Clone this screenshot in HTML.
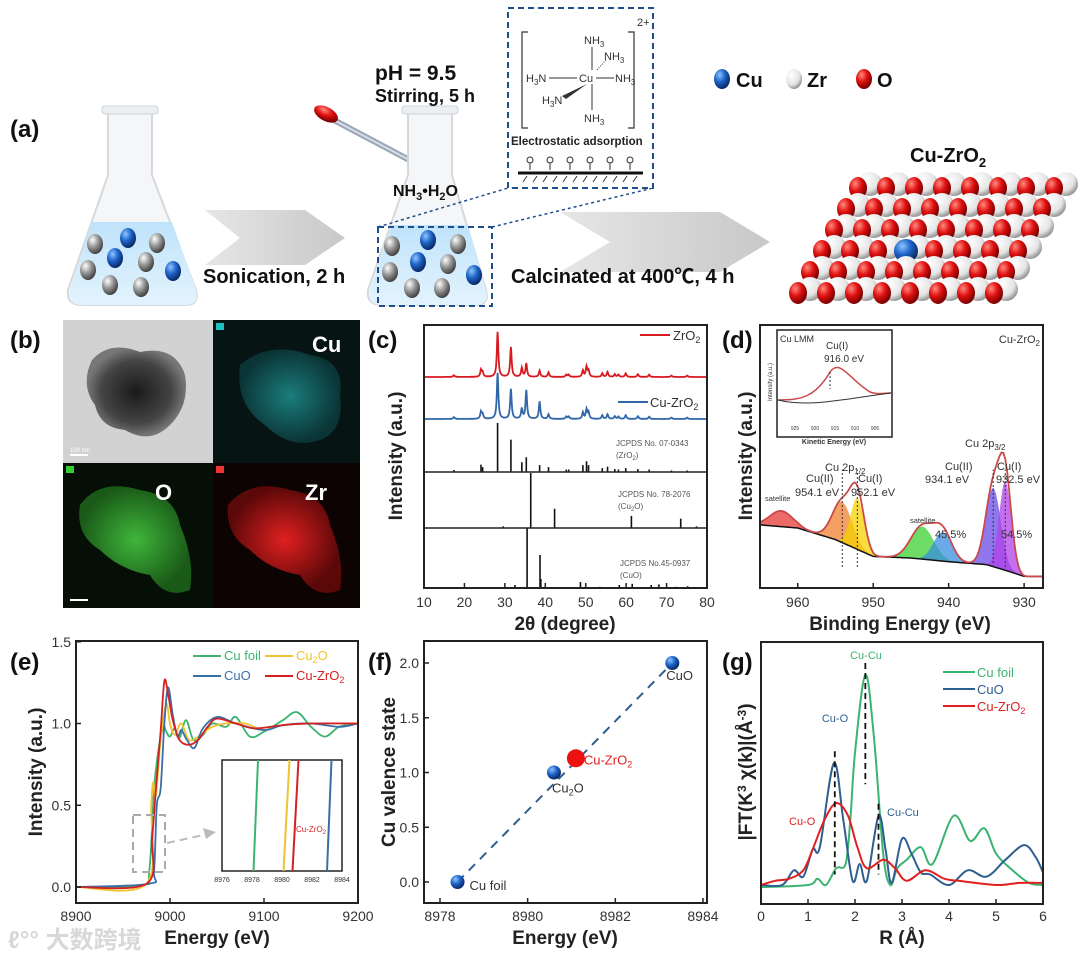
<!DOCTYPE html>
<html><head><meta charset="utf-8">
<style>
html,body{margin:0;padding:0;background:#fff;}
svg{display:block;font-family:"Liberation Sans","Noto Sans CJK SC",sans-serif;}
.tk{font-size:14px;fill:#333;}
.ttl{font-size:19px;font-weight:bold;fill:#222;}
.pl{font-size:24px;font-weight:bold;fill:#111;}
</style></head>
<body>
<svg id="fig" width="1080" height="957" viewBox="0 0 1080 957" xmlns="http://www.w3.org/2000/svg">
<defs>
<radialGradient id="gGrey" cx="35%" cy="30%" r="70%"><stop offset="0" stop-color="#fff"/><stop offset="0.5" stop-color="#999"/><stop offset="1" stop-color="#444"/></radialGradient>
<radialGradient id="gBlue" cx="35%" cy="30%" r="70%"><stop offset="0" stop-color="#8fc4ff"/><stop offset="0.5" stop-color="#1e64c8"/><stop offset="1" stop-color="#0a2a66"/></radialGradient>
<radialGradient id="gRed" cx="35%" cy="30%" r="70%"><stop offset="0" stop-color="#ff8a80"/><stop offset="0.5" stop-color="#e01010"/><stop offset="1" stop-color="#7a0000"/></radialGradient>
<radialGradient id="gWhite" cx="35%" cy="30%" r="70%"><stop offset="0" stop-color="#fff"/><stop offset="0.7" stop-color="#e4e4e4"/><stop offset="1" stop-color="#999"/></radialGradient>
<linearGradient id="gLiquid" x1="0" y1="0" x2="0" y2="1"><stop offset="0" stop-color="#bfe3fb"/><stop offset="1" stop-color="#e3f3fd"/></linearGradient>
<linearGradient id="gArrow" x1="0" y1="0" x2="1" y2="0"><stop offset="0" stop-color="#e6e6e6"/><stop offset="1" stop-color="#c8c8c8"/></linearGradient>
<radialGradient id="gTem" cx="50%" cy="50%" r="50%"><stop offset="0" stop-color="#1a1a1a"/><stop offset="0.7" stop-color="#444"/><stop offset="1" stop-color="#777"/></radialGradient>
<radialGradient id="gCu" cx="50%" cy="50%" r="50%"><stop offset="0" stop-color="#1f8f8f"/><stop offset="1" stop-color="#0b3a3c"/></radialGradient>
<radialGradient id="gO" cx="50%" cy="50%" r="50%"><stop offset="0" stop-color="#3fb63a"/><stop offset="1" stop-color="#1a5a18"/></radialGradient>
<radialGradient id="gZr" cx="50%" cy="50%" r="50%"><stop offset="0" stop-color="#e02020"/><stop offset="1" stop-color="#5a0808"/></radialGradient>
</defs>

<!-- ============ PANEL A ============ -->
<g>
<text x="10" y="137" class="pl">(a)</text>
<g>
<path d="M108,112 L108,175 L68,290 Q66,305 82,305 L186,305 Q200,305 196,290 L152,175 L152,112 Z" fill="#f4f6f8" stroke="#d5d9dd" stroke-width="2"/>
<rect x="102" y="106" width="56" height="8" rx="3" fill="#eceff1" stroke="#cfd4d8"/>
<path d="M92,222 L172,222 L196,290 Q200,305 186,305 L82,305 Q66,305 70,290 Z" fill="url(#gLiquid)"/>
</g>
<g>
<ellipse cx="95" cy="244" rx="8" ry="10" fill="url(#gGrey)"/><ellipse cx="128" cy="238" rx="8" ry="10" fill="url(#gBlue)"/><ellipse cx="157" cy="243" rx="8" ry="10" fill="url(#gGrey)"/>
<ellipse cx="88" cy="270" rx="8" ry="10" fill="url(#gGrey)"/><ellipse cx="115" cy="258" rx="8" ry="10" fill="url(#gBlue)"/><ellipse cx="146" cy="262" rx="8" ry="10" fill="url(#gGrey)"/><ellipse cx="173" cy="271" rx="8" ry="10" fill="url(#gBlue)"/>
<ellipse cx="110" cy="285" rx="8" ry="10" fill="url(#gGrey)"/><ellipse cx="141" cy="287" rx="8" ry="10" fill="url(#gGrey)"/>
</g>
<path d="M205,210 L305,210 L345,238 L305,265 L205,265 L240,238 Z" fill="url(#gArrow)"/>
<text x="203" y="283" font-size="20" font-weight="bold" fill="#111">Sonication, 2 h</text>
<g>
<line x1="330" y1="118" x2="432" y2="172" stroke="#9aa5b5" stroke-width="6" stroke-linecap="round"/>
<line x1="330" y1="118" x2="432" y2="172" stroke="#d8dee8" stroke-width="2"/>
<ellipse cx="326" cy="114" rx="13" ry="7" transform="rotate(28 326 114)" fill="url(#gRed)"/>
</g>
<g>
<path d="M408,112 L408,175 L368,290 Q366,305 382,305 L476,305 Q490,305 486,290 L452,175 L452,112 Z" fill="#f4f6f8" stroke="#d5d9dd" stroke-width="2"/>
<rect x="402" y="106" width="56" height="8" rx="3" fill="#eceff1" stroke="#cfd4d8"/>
<path d="M392,225 L468,225 L486,290 Q490,305 476,305 L382,305 Q366,305 370,290 Z" fill="url(#gLiquid)"/>
<ellipse cx="392" cy="246" rx="8" ry="10" fill="url(#gGrey)"/><ellipse cx="428" cy="240" rx="8" ry="10" fill="url(#gBlue)"/><ellipse cx="458" cy="244" rx="8" ry="10" fill="url(#gGrey)"/>
<ellipse cx="390" cy="272" rx="8" ry="10" fill="url(#gGrey)"/><ellipse cx="418" cy="262" rx="8" ry="10" fill="url(#gBlue)"/><ellipse cx="448" cy="264" rx="8" ry="10" fill="url(#gGrey)"/><ellipse cx="474" cy="275" rx="8" ry="10" fill="url(#gBlue)"/>
<ellipse cx="412" cy="288" rx="8" ry="10" fill="url(#gGrey)"/><ellipse cx="442" cy="288" rx="8" ry="10" fill="url(#gGrey)"/>
</g>
<rect x="378" y="227" width="114" height="79" fill="none" stroke="#1f4e8c" stroke-width="2" stroke-dasharray="6,4"/>
<line x1="378" y1="227" x2="508" y2="188" stroke="#1f4e8c" stroke-width="1.5" stroke-dasharray="3,3"/>
<line x1="492" y1="227" x2="653" y2="188" stroke="#1f4e8c" stroke-width="1.5" stroke-dasharray="3,3"/>
<text x="375" y="80" font-size="21" font-weight="bold" fill="#111">pH = 9.5</text>
<text x="375" y="102" font-size="18" font-weight="bold" fill="#111">Stirring, 5 h</text>
<text x="393" y="196" font-size="16" font-weight="bold" fill="#111">NH<tspan font-size="11" dy="4">3</tspan><tspan dy="-4">•H</tspan><tspan font-size="11" dy="4">2</tspan><tspan dy="-4">O</tspan></text>
<g>
<rect x="508" y="8" width="145" height="180" fill="#fff" stroke="#1f4e8c" stroke-width="2" stroke-dasharray="6,4"/>
<path d="M528,32 L522,32 L522,128 L528,128" fill="none" stroke="#333" stroke-width="1.2"/>
<path d="M628,32 L634,32 L634,128 L628,128" fill="none" stroke="#333" stroke-width="1.2"/>
<text x="637" y="26" font-size="11" fill="#333">2+</text>
<g font-size="11" fill="#333">
<text x="584" y="44">NH<tspan font-size="8" dy="3">3</tspan></text>
<text x="604" y="60">NH<tspan font-size="8" dy="3">3</tspan></text>
<text x="526" y="82">H<tspan font-size="8" dy="3">3</tspan><tspan dy="-3">N</tspan></text>
<text x="579" y="82">Cu</text>
<text x="615" y="82">NH<tspan font-size="8" dy="3">3</tspan></text>
<text x="542" y="104">H<tspan font-size="8" dy="3">3</tspan><tspan dy="-3">N</tspan></text>
<text x="584" y="122">NH<tspan font-size="8" dy="3">3</tspan></text>
</g>
<g stroke="#333" stroke-width="1"><line x1="592" y1="47" x2="592" y2="70"/><line x1="592" y1="84" x2="592" y2="110"/><line x1="549" y1="78" x2="577" y2="78"/><line x1="596" y1="78" x2="614" y2="78"/><line x1="597" y1="70" x2="606" y2="60" stroke-dasharray="1,1.5"/></g>
<path d="M587,84 L562,96 L566,99 Z" fill="#333"/>
<text x="511" y="145" font-size="11.5" font-weight="bold" fill="#222">Electrostatic adsorption</text>
<g fill="none" stroke="#333" stroke-width="1">
<circle cx="530" cy="160" r="3"/><circle cx="550" cy="160" r="3"/><circle cx="570" cy="160" r="3"/><circle cx="590" cy="160" r="3"/><circle cx="610" cy="160" r="3"/><circle cx="630" cy="160" r="3"/>
<path d="M530,163V170M550,163V170M570,163V170M590,163V170M610,163V170M630,163V170"/>
<path d="M527,176l-4,6M537,176l-4,6M547,176l-4,6M557,176l-4,6M567,176l-4,6M577,176l-4,6M587,176l-4,6M597,176l-4,6M607,176l-4,6M617,176l-4,6M627,176l-4,6M637,176l-4,6"/>
</g>
<line x1="518" y1="173" x2="643" y2="173" stroke="#111" stroke-width="3"/>
</g>
<g font-size="20" font-weight="bold" fill="#111">
<ellipse cx="722" cy="79" rx="8" ry="10" fill="url(#gBlue)"/><text x="736" y="87">Cu</text>
<ellipse cx="794" cy="79" rx="8" ry="10" fill="url(#gWhite)"/><text x="807" y="87">Zr</text>
<ellipse cx="864" cy="79" rx="8" ry="10" fill="url(#gRed)"/><text x="877" y="87">O</text>
</g>
<path d="M560,212 L720,212 L770,242 L720,272 L560,272 L610,242 Z" fill="url(#gArrow)"/>
<text x="511" y="283" font-size="20" font-weight="bold" fill="#111">Calcinated at 400℃, 4 h</text>
<text x="910" y="162" font-size="20" font-weight="bold" fill="#111">Cu-ZrO<tspan font-size="13" dy="5">2</tspan></text>
<g id="lattice"></g>
</g>

<!-- ============ PANEL B ============ -->
<g>
<text x="10" y="348" class="pl">(b)</text>
<g>
<rect x="63" y="320" width="150" height="143" fill="#d2d2d2"/>
<path d="M92,360 Q110,340 140,352 Q175,345 185,375 Q190,405 170,425 Q150,445 125,430 Q100,428 95,405 Q80,385 92,360 Z" fill="url(#gTem)"/>
<line x1="70" y1="455" x2="88" y2="455" stroke="#fff" stroke-width="2"/><text x="70" y="452" font-size="6" fill="#fff">100 nm</text>
</g>
<g>
<rect x="213" y="320" width="147" height="143" fill="#071414"/>
<path d="M240,365 Q270,340 310,355 Q345,360 340,395 Q345,430 320,440 Q290,450 265,425 Q235,405 240,365 Z" fill="url(#gCu)" opacity="0.85"/>
<rect x="216" y="323" width="8" height="7" fill="#1fbfbf"/>
<text x="312" y="352" font-size="22" font-weight="bold" fill="#fff">Cu</text>
</g>
<g>
<rect x="63" y="463" width="150" height="145" fill="#050f05"/>
<path d="M80,505 Q100,478 140,490 Q175,495 180,525 Q195,560 190,590 Q165,600 150,575 Q120,570 100,550 Q75,535 80,505 Z" fill="url(#gO)"/>
<rect x="66" y="466" width="8" height="7" fill="#3c3"/>
<text x="155" y="500" font-size="22" font-weight="bold" fill="#fff">O</text>
<line x1="70" y1="600" x2="88" y2="600" stroke="#fff" stroke-width="2"/>
</g>
<g>
<rect x="213" y="463" width="147" height="145" fill="#0e0303"/>
<path d="M228,505 Q250,478 290,490 Q325,495 330,525 Q345,560 340,590 Q315,600 300,575 Q270,570 250,550 Q225,535 228,505 Z" fill="url(#gZr)"/>
<rect x="216" y="466" width="8" height="7" fill="#e33"/>
<text x="305" y="500" font-size="22" font-weight="bold" fill="#fff">Zr</text>
</g>
</g>

<g id="panelC"></g>
<g id="panelD"></g>
<g id="panelE"></g>
<g id="panelF"></g>
<g id="panelG"></g>

<text x="8" y="948" font-size="24" font-weight="bold" fill="#d8d8d8">ℓ°° 大数跨境</text>
</svg>

<script>
// ---------- DATA ----------
const zro2Peaks = [17.4,24.1,24.5,28.2,31.5,34.2,35.3,38.6,40.8,45.2,45.8,49.3,50.2,50.7,54.1,55.4,57.2,58.1,59.9,62.9,65.7,71.2,75.1];
const zro2Int   = [0.04,0.15,0.1,1.0,0.66,0.2,0.3,0.14,0.1,0.05,0.05,0.14,0.22,0.14,0.08,0.11,0.06,0.05,0.08,0.06,0.05,0.03,0.03];
const cuZrO2Int = [0.04,0.15,0.1,1.0,0.65,0.22,0.62,0.38,0.1,0.05,0.05,0.14,0.2,0.14,0.08,0.1,0.06,0.05,0.08,0.06,0.05,0.03,0.03];
const cu2oPeaks = [29.6,36.4,42.3,61.3,73.5,77.4];
const cu2oInt   = [0.03,1.0,0.35,0.22,0.17,0.03];
const cuoPeaks  = [32.5,35.5,38.7,38.9,48.7,53.5,58.3,61.5,66.2,68.1,72.4,75.2];
const cuoInt    = [0.05,1.0,0.55,0.15,0.1,0.02,0.05,0.07,0.05,0.06,0.02,0.03];
const xrdTicks  = [10,20,30,40,50,60,70,80];
const xpsBgE   = [965,960,955,950,945,940,935,932,930,927.5];
const xpsBgV   = [24,22.8,18.4,12,11.4,10,8.9,6.3,4.4,4.4];
const xpsCompE = [962.2,954.1,952.1,943.5,940.8,934.1,932.5];
const xpsCompH = [6,15.5,19.5,12.4,11,30,34];
const xpsCompW = [1.5,1.3,0.9,1.5,1.2,1.0,0.8];
const xpsCompColor = ['#e53935','#f08030','#f5d000','#3cd030','#3a8ee0','#6a4ae8','#b040e8'];
const xpsTicks = [960,950,940,930];
const eFoilE = [8900,8970,8978,8983,8988,8993,8996,9000,9005,9010,9017,9025,9035,9045,9060,9070,9085,9100,9120,9135,9150,9165,9180,9200];
const eFoilV = [0,0.01,0.1,0.6,0.85,0.98,0.95,0.92,0.97,0.91,1.02,0.9,0.93,1.0,0.98,1.04,0.92,0.95,1.02,1.07,0.98,0.92,0.98,1.0];
const eCu2oE = [8900,8975,8980,8982,8985,8990,8996,9000,9005,9012,9020,9030,9045,9060,9080,9100,9120,9150,9200];
const eCu2oV = [0,0.02,0.5,0.64,0.56,0.9,1.12,1.0,0.93,1.0,0.9,0.92,0.98,1.0,1.0,0.96,0.99,1.0,1.0];
const eCuoE  = [8900,8978,8983,8986,8990,8994,8998,9003,9008,9012,9018,9026,9035,9050,9070,9100,9120,9150,9180,9200];
const eCuoV  = [0,0.02,0.1,0.5,0.6,1.0,1.22,1.05,0.92,0.96,0.9,0.85,0.97,1.04,1.0,0.96,0.99,1.0,0.98,1.0];
const eZrE   = [8900,8975,8981,8985,8990,8994,8998,9003,9010,9020,9030,9040,9050,9070,9090,9120,9150,9200];
const eZrV   = [0,0.02,0.3,0.6,0.95,1.26,1.18,1.02,0.9,0.87,0.9,0.98,1.03,1.0,0.97,0.99,1.0,1.0];
const eInsetEdge = [8978.1,8980.1,8980.7,8983.0];
const eInsetTop  = [8978.4,8980.5,8981.1,8983.3];
const eXTicks = [8900,9000,9100,9200];
const eYTicks = [0,0.5,1.0,1.5];
const fNames  = ['Cu foil','Cu2O','Cu-ZrO2','CuO'];
const fEnergy = [8978.4,8980.6,8981.1,8983.3];
const fValence= [0,1.0,1.13,2.0];
const fXTicks = [8978,8980,8982,8984];
const fYTicks = [0,0.5,1.0,1.5,2.0];
const gFoilR = [0,1.0,1.2,1.38,1.6,1.8,1.9,2.0,2.22,2.4,2.6,2.75,2.9,3.1,3.4,3.65,4.1,4.45,4.75,5.0,5.3,5.7,6.0];
const gFoilV = [-0.01,0,0.03,0,0.08,0.1,0.31,0.63,1.0,0.71,0.15,0,0.08,0.12,0.18,0.1,0.33,0.21,0.27,0.15,0.08,0.01,0];
const gCuoR  = [0,0.45,0.7,0.9,1.1,1.25,1.55,1.75,1.95,2.1,2.25,2.5,2.65,2.78,3.0,3.2,3.4,3.6,4.0,4.4,4.8,5.2,5.6,5.85,6.0];
const gCuoV  = [0,0,0.07,0.04,0.17,0.18,0.58,0.31,0.02,0.1,0.02,0.33,0.17,0.01,0.22,0.15,0.06,0.05,0,0.07,0.04,0.12,0.19,0.13,0.06];
const gZrR   = [0,0.3,0.6,0.9,1.1,1.35,1.6,1.85,2.05,2.25,2.6,2.85,3.1,3.5,3.9,4.2,5.0,5.5,6.0];
const gZrV   = [0,0.02,0.03,0.07,0.17,0.31,0.39,0.33,0.18,0.08,0.12,0.08,0.02,0.07,0.03,0.02,0,0.01,0.01];
const gXTicks = [0,1,2,3,4,5,6];

// ---------- HELPERS ----------
const NS='http://www.w3.org/2000/svg';
function mk(tag, attrs, parent){const e=document.createElementNS(NS,tag);for(const k in attrs)e.setAttribute(k,attrs[k]);parent.appendChild(e);return e;}
function smooth(pts){
  let d='M'+pts[0][0].toFixed(1)+','+pts[0][1].toFixed(1);
  for(let i=0;i<pts.length-1;i++){
    const p0=pts[i-1]||pts[i],p1=pts[i],p2=pts[i+1],p3=pts[i+2]||p2;
    const c1=[p1[0]+(p2[0]-p0[0])/6,p1[1]+(p2[1]-p0[1])/6];
    const c2=[p2[0]-(p3[0]-p1[0])/6,p2[1]-(p3[1]-p1[1])/6];
    d+=' C'+c1[0].toFixed(1)+','+c1[1].toFixed(1)+' '+c2[0].toFixed(1)+','+c2[1].toFixed(1)+' '+p2[0].toFixed(1)+','+p2[1].toFixed(1);
  }
  return d;
}
function interp(xs,ys,x){
  if(x<=xs[0])return ys[0];
  for(let i=0;i<xs.length-1;i++){ if(x<=xs[i+1]){const t=(x-xs[i])/(xs[i+1]-xs[i]);return ys[i]+t*(ys[i+1]-ys[i]);} }
  return ys[ys.length-1];
}
function box(g,x,y,w,h){return mk('rect',{x:x,y:y,width:w,height:h,fill:'none',stroke:'#222','stroke-width':2},g);}
function txt(g,x,y,s,cls,anchor,extra){
  const t=mk('text',{x:x,y:y,'class':cls||'tk','text-anchor':anchor||'start'},g);
  let st='';
  if(extra){for(const k in extra){
    if(k==='font-size')st+='font-size:'+extra[k]+'px;';
    else if(k==='fill')st+='fill:'+extra[k]+';';
    else if(k==='font-weight')st+='font-weight:'+extra[k]+';';
    else t.setAttribute(k,extra[k]);
  }}
  if(st)t.setAttribute('style',st);
  t.innerHTML=s;return t;
}

// ---------- LATTICE ----------
(function(){
  const g=document.getElementById('lattice');
  for(let r=0;r<6;r++){
    const x0=858-r*12, y=186+r*21;
    for(let i=0;i<8;i++){
      const c=mk('ellipse',{cx:x0+i*28+12,cy:y-2,rx:12,ry:12,fill:'url(#gWhite)'},g);
      
      
    }
    for(let i=0;i<8;i++){
      const blue=(r===3&&i===3);
      const c=mk('ellipse',{cx:x0+i*28,cy:y+2,rx:blue?12:9,ry:blue?12:11,fill:blue?'url(#gBlue)':'url(#gRed)'},g);
      
      
    }
  }
})();

// ---------- PANEL C ----------
(function(){
  const g=document.getElementById('panelC');
  const L=424,R=707,T=325,B=588;
  const x=v=>L+(v-10)/70*(R-L);
  txt(g,368,348,'(c)','pl');
  mk('rect',{x:L,y:T,width:R-L,height:B-T,fill:'#fff'},g);
  function trace(peaks,ints,base,amp,color,name){
    const pts=[];
    for(let t=10;t<=80;t+=0.1){
      let v=0;for(let i=0;i<peaks.length;i++){const d=(t-peaks[i])/0.22;v+=ints[i]/(1+d*d);}
      pts.push([x(t),base-v*amp]);
    }
    const p=mk('path',{d:'M'+pts.map(p=>p[0].toFixed(1)+','+p[1].toFixed(1)).join(' L'),fill:'none',stroke:color,'stroke-width':1.8},g);
    
    
  }
  trace(zro2Peaks,zro2Int,377,45,'#d71920','zro2-xrd-trace');
  trace(zro2Peaks,cuZrO2Int,419,46,'#2f67a8','cu-zro2-xrd-trace');
  function sticks(peaks,ints,base,amp,name){
    for(let i=0;i<peaks.length;i++){
      const l=mk('line',{x1:x(peaks[i]),x2:x(peaks[i]),y1:base,y2:base-ints[i]*amp,stroke:'#111','stroke-width':1.6},g);
      
      
    }
  }
  sticks(zro2Peaks,zro2Int,472,49,'zro2-reference-stick');
  sticks(cu2oPeaks,cu2oInt,528,55,'cu2o-reference-stick');
  sticks(cuoPeaks,cuoInt,588,60,'cuo-reference-stick');
  mk('line',{x1:L,x2:R,y1:472,y2:472,stroke:'#222','stroke-width':1.5},g);
  mk('line',{x1:L,x2:R,y1:528,y2:528,stroke:'#222','stroke-width':1.5},g);
  box(g,L,T,R-L,B-T);
  xrdTicks.forEach(v=>{mk('line',{x1:x(v),x2:x(v),y1:B,y2:B-5,stroke:'#222','stroke-width':1.5},g);txt(g,x(v),607,v,'tk','middle');});
  txt(g,565,630,'2θ (degree)','ttl','middle');
  txt(g,0,0,'Intensity (a.u.)','ttl','middle',{transform:'translate(402,456) rotate(-90)'});
  mk('line',{x1:640,x2:670,y1:335,y2:335,stroke:'#d71920','stroke-width':2},g);
  txt(g,673,340,'ZrO<tspan font-size="9" dy="3">2</tspan>','tk','start',{'font-size':'13'});
  mk('line',{x1:618,x2:648,y1:402,y2:402,stroke:'#2f67a8','stroke-width':2},g);
  txt(g,650,407,'Cu-ZrO<tspan font-size="9" dy="3">2</tspan>','tk','start',{'font-size':'13'});
  const sm={'font-size':'8','fill':'#555'};
  txt(g,616,446,'JCPDS No. 07-0343','tk','start',sm);
  txt(g,616,458,'(ZrO<tspan font-size="6" dy="2">2</tspan><tspan dy="-2">)</tspan>','tk','start',sm);
  txt(g,618,497,'JCPDS No. 78-2076','tk','start',sm);
  txt(g,618,509,'(Cu<tspan font-size="6" dy="2">2</tspan><tspan dy="-2">O)</tspan>','tk','start',sm);
  txt(g,620,566,'JCPDS No.45-0937','tk','start',sm);
  txt(g,620,578,'(CuO)','tk','start',sm);
})();

// ---------- PANEL D ----------
(function(){
  const g=document.getElementById('panelD');
  const L=760,R=1043,T=325,B=588;
  const x=v=>L+(965-v)/37.5*(R-L);
  const y=v=>B-v/100*(B-T);
  txt(g,722,348,'(d)','pl');
  const bg=e=>interp(xpsBgE.map(v=>-v),xpsBgV,-e);
  for(let c=0;c<xpsCompE.length;c++){
    const top=[],bot=[];
    for(let e=965;e>=927.5;e-=0.25){
      const d=(e-xpsCompE[c])/xpsCompW[c];const v=xpsCompH[c]*Math.exp(-d*d/2);
      if(v>0.2){top.push([x(e),y(bg(e)+v)]);bot.push([x(e),y(bg(e))]);}
    }
    const p=mk('path',{d:'M'+top.map(p=>p.join(',')).join(' L')+' L'+bot.reverse().map(p=>p.join(',')).join(' L')+'Z',fill:xpsCompColor[c],'fill-opacity':0.75},g);
    
    
  }
  const env=[],bl=[];
  for(let e=965;e>=927.5;e-=0.25){
    let v=bg(e);for(let c=0;c<xpsCompE.length;c++){const d=(e-xpsCompE[c])/xpsCompW[c];v+=xpsCompH[c]*Math.exp(-d*d/2);}
    env.push([x(e),y(v)]);bl.push([x(e),y(bg(e))]);
  }
  const pb=mk('path',{d:'M'+bl.map(p=>p.join(',')).join(' L'),fill:'none',stroke:'#111','stroke-width':1.5},g);
  
  
  const pe=mk('path',{d:'M'+env.map(p=>p.join(',')).join(' L'),fill:'none',stroke:'#c94a4a','stroke-width':1.8},g);
  
  
  [954.1,952.1,934.1,932.5].forEach(e=>mk('line',{x1:x(e),x2:x(e),y1:y(8),y2:y(45),stroke:'#333','stroke-dasharray':'2,2'},g));
  box(g,L,T,R-L,B-T);
  xpsTicks.forEach(v=>{mk('line',{x1:x(v),x2:x(v),y1:B,y2:B-5,stroke:'#222','stroke-width':1.5},g);txt(g,x(v),607,v,'tk','middle');});
  txt(g,900,630,'Binding Energy (eV)','ttl','middle');
  txt(g,0,0,'Intensity (a.u.)','ttl','middle',{transform:'translate(752,456) rotate(-90)'});
  txt(g,1040,343,'Cu-ZrO<tspan font-size="8" dy="3">2</tspan>','tk','end',{'font-size':'11'});
  const s={'font-size':'11'};
  txt(g,965,447,'Cu 2p<tspan font-size="8" dy="3">3/2</tspan>','tk','start',s);
  txt(g,945,470,'Cu(II)','tk','start',s);txt(g,925,483,'934.1 eV','tk','start',s);
  txt(g,997,470,'Cu(I)','tk','start',s);txt(g,996,483,'932.5 eV','tk','start',s);
  txt(g,825,471,'Cu 2p<tspan font-size="8" dy="3">1/2</tspan>','tk','start',s);
  txt(g,806,482,'Cu(II)','tk','start',s);txt(g,795,496,'954.1 eV','tk','start',s);
  txt(g,858,482,'Cu(I)','tk','start',s);txt(g,851,496,'952.1 eV','tk','start',s);
  txt(g,765,501,'satellite','tk','start',{'font-size':'7.5'});
  txt(g,910,523,'satellite','tk','start',{'font-size':'7.5'});
  txt(g,935,538,'45.5%','tk','start',s);txt(g,1001,538,'54.5%','tk','start',s);
  const ig=mk('g',{},g);
  
  
  mk('rect',{x:777,y:330,width:115,height:107,fill:'#fff',stroke:'#222','stroke-width':1.5},ig);
  mk('path',{d:'M778,400 C800,400 815,398 830,372 C840,358 850,380 870,392 C878,395 885,393 891,393',fill:'none',stroke:'#c94a4a','stroke-width':1.5},ig);
  mk('path',{d:'M778,400 C810,408 850,398 891,393',fill:'none',stroke:'#333','stroke-width':1},ig);
  mk('line',{x1:830,x2:830,y1:372,y2:389,stroke:'#333','stroke-dasharray':'2,2'},ig);
  txt(ig,780,342,'Cu LMM','tk','start',{'font-size':'9'});
  txt(ig,826,349,'Cu(I)','tk','start',{'font-size':'10'});
  txt(ig,824,362,'916.0 eV','tk','start',{'font-size':'10'});
  ['925','920','915','910','905'].forEach((t,i)=>txt(ig,795+i*20,430,t,'tk','middle',{'font-size':'5'}));
  txt(ig,834,444,'Kinetic Energy (eV)','tk','middle',{'font-size':'7','font-weight':'bold'});
  txt(ig,0,0,'Intensity (a.u.)','tk','middle',{'font-size':'6','transform':'translate(772,382) rotate(-90)'});
})();

// ---------- PANEL E ----------
(function(){
  const g=document.getElementById('panelE');
  const L=76,R=358,T=641,B=903;
  const x=v=>L+(v-8900)/300*(R-L);
  const y=v=>887-v*163.5;
  txt(g,10,670,'(e)','pl');
  const series=[[eFoilE,eFoilV,'#3cb371','cu-foil-xanes'],[eCu2oE,eCu2oV,'#f2c230','cu2o-xanes'],[eCuoE,eCuoV,'#3a6ea8','cuo-xanes'],[eZrE,eZrV,'#d62020','cu-zro2-xanes']];
  series.forEach(s=>{
    const p=mk('path',{d:smooth(s[0].map((e,i)=>[x(e),y(s[1][i])])),fill:'none',stroke:s[2],'stroke-width':1.8},g);
    
    
  });
  box(g,L,T,R-L,B-T);
  eXTicks.forEach(v=>{mk('line',{x1:x(v),x2:x(v),y1:B,y2:B-5,stroke:'#222','stroke-width':1.5},g);txt(g,x(v),921,v,'tk','middle');});
  eYTicks.forEach(v=>{mk('line',{x1:L,x2:L+5,y1:y(v),y2:y(v),stroke:'#222','stroke-width':1.5},g);txt(g,L-5,y(v)+5,v.toFixed(1),'tk','end');});
  txt(g,217,944,'Energy (eV)','ttl','middle');
  txt(g,0,0,'Intensity (a.u.)','ttl','middle',{transform:'translate(42,772) rotate(-90)'});
  const lg=[['Cu foil','#3cb371',193,660],['Cu<tspan font-size="9" dy="3">2</tspan><tspan dy="-3">O</tspan>','#f2c230',265,660],['CuO','#3a6ea8',193,680],['Cu-ZrO<tspan font-size="9" dy="3">2</tspan>','#d62020',265,680]];
  lg.forEach(l=>{mk('line',{x1:l[2],x2:l[2]+28,y1:l[3]-4,y2:l[3]-4,stroke:l[1],'stroke-width':2},g);txt(g,l[2]+31,l[3],l[0],'tk','start',{fill:l[1],'font-size':'13'});});
  mk('rect',{x:133,y:815,width:32,height:57,fill:'none',stroke:'#aaa','stroke-width':2,'stroke-dasharray':'8,5'},g);
  mk('path',{d:'M167,843 L208,834',stroke:'#bbb','stroke-width':2,'stroke-dasharray':'8,5'},g);
  mk('path',{d:'M216,832 L203,828 L206,839 Z',fill:'#bbb'},g);
  const ig=mk('g',{},g);
  
  
  const iL=222,iR=342,iT=760,iB=871;
  const ix=v=>iL+(v-8976)/8*(iR-iL);
  mk('rect',{x:iL,y:iT,width:iR-iL,height:iB-iT,fill:'#fff',stroke:'#222','stroke-width':1.5},ig);
  const cols=['#3cb371','#f2c230','#d62020','#3a6ea8'];
  eInsetEdge.forEach((e,i)=>{
    const l=mk('line',{x1:ix(e),y1:iB,x2:ix(eInsetTop[i]),y2:iT,stroke:cols[i],'stroke-width':2},ig);
    
    
  });
  [8976,8978,8980,8982,8984].forEach(v=>txt(ig,ix(v),882,v,'tk','middle',{'font-size':'7'}));
  txt(ig,296,832,'Cu-ZrO<tspan font-size="6" dy="2">2</tspan>','tk','start',{'font-size':'8',fill:'#d62020'});
})();

// ---------- PANEL F ----------
(function(){
  const g=document.getElementById('panelF');
  const L=424,R=707,T=641,B=903;
  const x=v=>440+(v-8978)*43.83;
  const y=v=>882-v*109.5;
  txt(g,368,670,'(f)','pl');
  const fl=mk('line',{x1:x(fEnergy[0]),y1:y(fValence[0]),x2:x(fEnergy[3]),y2:y(fValence[3]),stroke:'#2f5f8f','stroke-width':2,'stroke-dasharray':'9,7'},g);
  
  
  const off=[[12,8],[-2,20],[8,6],[-6,17]];
  fEnergy.forEach((e,i)=>{
    const red=fNames[i]==='Cu-ZrO2';
    const c=mk('circle',{cx:x(e),cy:y(fValence[i]),r:red?9:7,fill:red?'#ee1111':'url(#gBlue)'},g);
    
    
    const label=fNames[i].replace('O2','O<tspan font-size="9" dy="3">2</tspan>').replace('Cu2O','Cu<tspan font-size="9" dy="3">2</tspan><tspan dy="-3">O</tspan>');
    txt(g,x(e)+off[i][0],y(fValence[i])+off[i][1],label,'tk','start',{'font-size':'13',fill:red?'#e02020':'#333'});
  });
  box(g,L,T,R-L,B-T);
  fXTicks.forEach(v=>{mk('line',{x1:x(v),x2:x(v),y1:B,y2:B-5,stroke:'#222','stroke-width':1.5},g);txt(g,x(v),921,v,'tk','middle');});
  fYTicks.forEach(v=>{mk('line',{x1:L,x2:L+5,y1:y(v),y2:y(v),stroke:'#222','stroke-width':1.5},g);txt(g,L-5,y(v)+5,v.toFixed(1),'tk','end');});
  txt(g,565,944,'Energy (eV)','ttl','middle');
  txt(g,0,0,'Cu valence state','ttl','middle',{transform:'translate(395,772) rotate(-90)'});
})();

// ---------- PANEL G ----------
(function(){
  const g=document.getElementById('panelG');
  const L=761,R=1043,T=642,B=904;
  const x=v=>L+v*47;
  const y=v=>885-v*210;
  txt(g,722,670,'(g)','pl');
  [[gFoilR,gFoilV,'#3cb371','cu-foil-exafs'],[gCuoR,gCuoV,'#2f5f8f','cuo-exafs'],[gZrR,gZrV,'#e02020','cu-zro2-exafs']].forEach(s=>{
    const p=mk('path',{d:smooth(s[0].map((r,i)=>[x(r),y(s[1][i])])),fill:'none',stroke:s[2],'stroke-width':2},g);
    
    
  });
  [[1.57,0.58,0.05],[2.22,1.0,0.48],[2.5,0.33,0.05]].forEach(d=>mk('line',{x1:x(d[0]),x2:x(d[0]),y1:y(d[1])-12,y2:y(d[2]),stroke:'#111','stroke-width':1.8,'stroke-dasharray':'6,4'},g));
  box(g,L,T,R-L,B-T);
  gXTicks.forEach(v=>{mk('line',{x1:x(v),x2:x(v),y1:B,y2:B-5,stroke:'#222','stroke-width':1.5},g);txt(g,x(v),921,v,'tk','middle');});
  txt(g,902,944,'R (Å)','ttl','middle');
  txt(g,0,0,'|FT(K<tspan font-size="12" dy="-6">3</tspan><tspan dy="6"> χ(k)|(Å</tspan><tspan font-size="12" dy="-6">-3</tspan><tspan dy="6">)</tspan>','ttl','middle',{transform:'translate(752,772) rotate(-90)'});
  txt(g,866,659,'Cu-Cu','tk','middle',{'font-size':'11',fill:'#3cb371'});
  txt(g,835,722,'Cu-O','tk','middle',{'font-size':'11',fill:'#2f5f8f'});
  txt(g,887,816,'Cu-Cu','tk','start',{'font-size':'11',fill:'#2f5f8f'});
  txt(g,789,825,'Cu-O','tk','start',{'font-size':'11',fill:'#e02020'});
  const lg=[['Cu foil','#3cb371',677],['CuO','#2f5f8f',694],['Cu-ZrO<tspan font-size="9" dy="3">2</tspan>','#e02020',711]];
  lg.forEach(l=>{mk('line',{x1:943,x2:975,y1:l[2]-5,y2:l[2]-5,stroke:l[1],'stroke-width':2},g);txt(g,977,l[2],l[0],'tk','start',{fill:l[1],'font-size':'13'});});
})();
</script>
</body></html>
